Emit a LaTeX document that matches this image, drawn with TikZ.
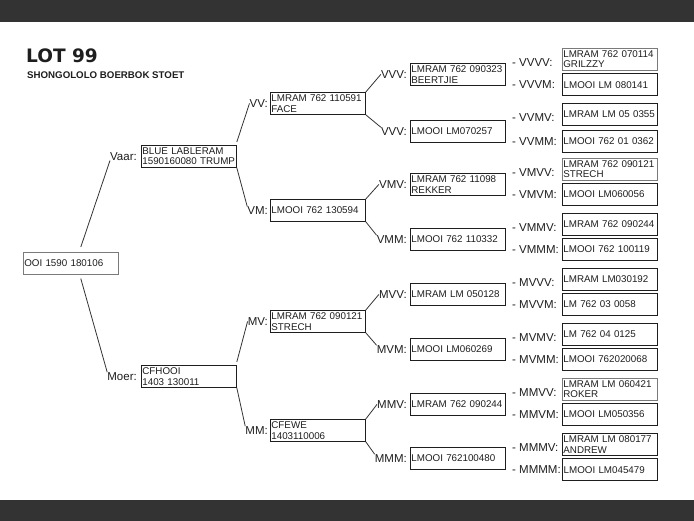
\documentclass[tikz,border=0pt]{standalone}
\usepackage{fontspec}
\setmainfont{Liberation Sans}
\newfontfamily\lotfont{DejaVu Sans}
\usetikzlibrary{positioning}
\definecolor{ink}{HTML}{1E1E1E}
\definecolor{bar}{HTML}{333333}
\definecolor{rule}{HTML}{333333}
\definecolor{pale}{HTML}{7A7A7A}
\tikzset{
  dog/.style      = {rectangle, draw=ink, line width=0.8pt, anchor=north west,
                     minimum height=22pt, text width=93pt, inner xsep=1pt, inner ysep=1pt,
                     align=left, text=ink, font=\fontsize{9.8}{10.5}\selectfont},
  doglight/.style = {dog, draw=pale, line width=0.6pt},
  dogbold/.style  = {dog, line width=1.3pt},
  tag/.style      = {inner sep=0pt, text=ink, font=\fontsize{11.5}{12}\selectfont},
  link/.style     = {draw=rule, line width=0.8pt},
}
\begin{document}
\begin{tikzpicture}[x=1pt, y=-1pt]
  \useasboundingbox (0,0) rectangle (694,521);
  \fill[white] (0,0) rectangle (694,521);
  \fill[bar] (0,0) rectangle (694,22);
  \fill[bar] (0,500) rectangle (694,521);

  \node[anchor=base west, inner sep=0pt, text=ink, font=\lotfont\bfseries\fontsize{18.5}{20}\selectfont] (lot) at (26,63) {LOT 99};
  \node[anchor=base west, inner sep=0pt, text=ink, font=\bfseries\fontsize{9.7}{11}\selectfont] (breed) at (27,79) {SHONGOLOLO BOERBOK STOET};

  % root and parents
  \node[doglight] (root) at (23,252) {OOI 1590 180106};
  \node[dog] (blue) at (141,145) {BLUE LABLERAM\\1590160080 TRUMP};
  \node[dog] (cfhooi) at (141,365) {CFHOOI\\1403 130011};
  \node[tag, left=4pt of blue] (vaarl) {Vaar:};
  \node[tag, left=4pt of cfhooi] (moerl) {Moer:};
  \draw[link] ([xshift=10pt,yshift=5pt]root.north) -- (vaarl.south west);
  \draw[link] ([xshift=10pt,yshift=-4pt]root.south) -- (moerl.north west);

  % grandparents
  \node[dog] (vv) at (270,92) {LMRAM 762 110591\\FACE};
  \node[dog] (vm) at (270,199) {LMOOI 762 130594};
  \node[dog] (mv) at (270,310) {LMRAM 762 090121\\STRECH};
  \node[dog] (mm) at (270,419) {CFEWE\\1403110006};
  \node[tag, left=2pt of vv] (vvl) {VV:};
  \node[tag, left=2pt of vm] (vml) {VM:};
  \node[tag, left=2pt of mv] (mvl) {MV:};
  \node[tag, left=2pt of mm] (mml) {MM:};
  \draw[link] ([yshift=3pt]blue.north east) -- (vvl.west);
  \draw[link] (blue.south east) -- (vml.north west);
  \draw[link] ([yshift=3pt]cfhooi.north east) -- (mvl.west);
  \draw[link] (cfhooi.south east) -- (mml.north west);

  % great-grandparents
  \node[dog] (vvv) at (410,63) {LMRAM 762 090323\\BEERTJIE};
  \node[dog] (vvm) at (410,120) {LMOOI LM070257};
  \node[dog] (vmv) at (410,173) {LMRAM 762 11098\\REKKER};
  \node[dog] (vmm) at (410,228) {LMOOI 762 110332};
  \node[dog] (mvv) at (410,283) {LMRAM LM 050128};
  \node[dog] (mvm) at (410,338) {LMOOI LM060269};
  \node[dog] (mmv) at (410,393) {LMRAM 762 090244};
  \node[dog] (mmm) at (410,447) {LMOOI 762100480};
  \node[tag, left=3pt of vvv] (vvvl) {VVV:};
  \node[tag, left=3pt of vvm] (vvml) {VVV:};
  \node[tag, left=3pt of vmv] (vmvl) {VMV:};
  \node[tag, left=3pt of vmm] (vmml) {VMM:};
  \node[tag, left=3pt of mvv] (mvvl) {MVV:};
  \node[tag, left=3pt of mvm] (mvml) {MVM:};
  \node[tag, left=3pt of mmv] (mmvl) {MMV:};
  \node[tag, left=3pt of mmm] (mmml) {MMM:};
  \draw[link] (vv.north east) -- (vvvl.west);
  \draw[link] (vv.south east) -- (vvml.north west);
  \draw[link] (vm.north east) -- (vmvl.west);
  \draw[link] (vm.south east) -- (vmml.north west);
  \draw[link] (mv.north east) -- (mvvl.west);
  \draw[link] (mv.south east) -- (mvml.north west);
  \draw[link] (mm.north east) -- (mmvl.west);
  \draw[link] (mm.south east) -- (mmml.north west);

  % great-great-grandparents
  \node[doglight] (vvvv) at (562,48) {LMRAM 762 070114\\GRILZZY};
  \node[dogbold] (vvvm) at (562,73) {LMOOI LM 080141};
  \node[dog] (vvmv) at (562,103) {LMRAM LM 05 0355};
  \node[dog] (vvmm) at (562,130) {LMOOI 762 01 0362};
  \node[doglight] (vmvv) at (562,158) {LMRAM 762 090121\\STRECH};
  \node[dog] (vmvm) at (562,183) {LMOOI LM060056};
  \node[dog] (vmmv) at (562,213) {LMRAM 762 090244};
  \node[dog] (vmmm) at (562,238) {LMOOI 762 100119};
  \node[dog] (mvvv) at (562,268) {LMRAM LM030192};
  \node[dog] (mvvm) at (562,293) {LM 762 03 0058};
  \node[dog] (mvmv) at (562,323) {LM 762 04 0125};
  \node[dog] (mvmm) at (562,348) {LMOOI 762020068};
  \node[doglight] (mmvv) at (562,378) {LMRAM LM 060421\\ROKER};
  \node[dog] (mmvm) at (562,403) {LMOOI LM050356};
  \node[dog] (mmmv) at (562,433) {LMRAM LM 080177\\ANDREW};
  \node[dogbold] (mmmm) at (562,458) {LMOOI LM045479};
  \node[tag, anchor=west] (vvvvl) at ([xshift=-50pt,yshift=-3pt]vvvv.west) {- VVVV:};
  \node[tag, anchor=west] (vvvml) at ([xshift=-50pt]vvvm.west) {- VVVM:};
  \node[tag, anchor=west] (vvmvl) at ([xshift=-50pt,yshift=-3pt]vvmv.west) {- VVMV:};
  \node[tag, anchor=west] (vvmml) at ([xshift=-50pt]vvmm.west) {- VVMM:};
  \node[tag, anchor=west] (vmvvl) at ([xshift=-50pt,yshift=-3pt]vmvv.west) {- VMVV:};
  \node[tag, anchor=west] (vmvml) at ([xshift=-50pt]vmvm.west) {- VMVM:};
  \node[tag, anchor=west] (vmmvl) at ([xshift=-50pt,yshift=-3pt]vmmv.west) {- VMMV:};
  \node[tag, anchor=west] (vmmml) at ([xshift=-50pt]vmmm.west) {- VMMM:};
  \node[tag, anchor=west] (mvvvl) at ([xshift=-50pt,yshift=-3pt]mvvv.west) {- MVVV:};
  \node[tag, anchor=west] (mvvml) at ([xshift=-50pt]mvvm.west) {- MVVM:};
  \node[tag, anchor=west] (mvmvl) at ([xshift=-50pt,yshift=-3pt]mvmv.west) {- MVMV:};
  \node[tag, anchor=west] (mvmml) at ([xshift=-50pt]mvmm.west) {- MVMM:};
  \node[tag, anchor=west] (mmvvl) at ([xshift=-50pt,yshift=-3pt]mmvv.west) {- MMVV:};
  \node[tag, anchor=west] (mmvml) at ([xshift=-50pt]mmvm.west) {- MMVM:};
  \node[tag, anchor=west] (mmmvl) at ([xshift=-50pt,yshift=-3pt]mmmv.west) {- MMMV:};
  \node[tag, anchor=west] (mmmml) at ([xshift=-50pt]mmmm.west) {- MMMM:};
\end{tikzpicture}
\end{document}
